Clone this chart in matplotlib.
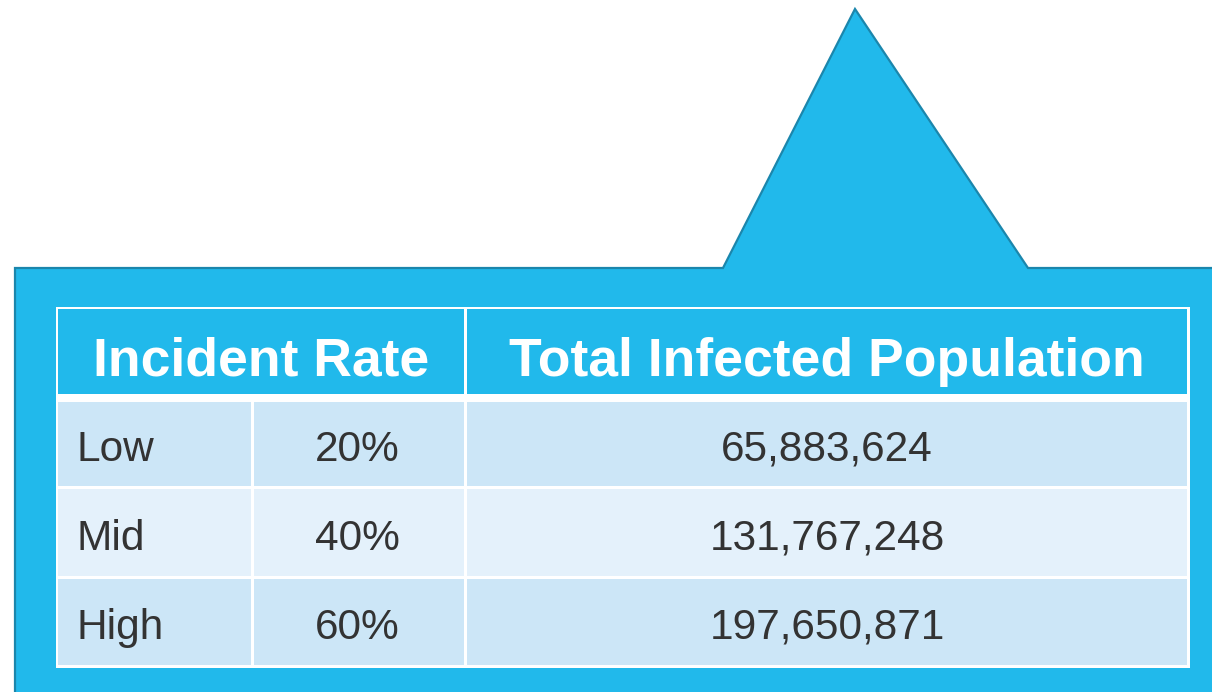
import matplotlib
matplotlib.use("Agg")
import matplotlib.pyplot as plt
from matplotlib.patches import Polygon, Rectangle

# ---- data ----
levels = ["Low", "Mid", "High"]
rates = ["20%", "40%", "60%"]
totals = ["65,883,624", "131,767,248", "197,650,871"]
headers = ["Incident Rate", "Total Infected Population"]

BLUE = "#21b9eb"
EDGE = "#1b86ac"
ROW_COLORS = ["#cce6f7", "#e4f1fb", "#cce6f7"]
TEXT = "#333333"
FONT = "Liberation Sans"

W, H = 1212, 692
fig = plt.figure(figsize=(W / 100, H / 100), dpi=100)
ax = fig.add_axes([0, 0, 1, 1])
ax.set_xlim(0, W)
ax.set_ylim(H, 0)
ax.axis("off")

# callout shape
callout = Polygon([(15, 700), (15, 268), (723, 268), (855, 9), (1028, 268),
                   (1220, 268), (1220, 700)], closed=True,
                  facecolor=BLUE, edgecolor=EDGE, linewidth=1.6, joinstyle="miter")
ax.add_patch(callout)

# table white background
ax.add_patch(Rectangle((56, 307), 1134, 361, facecolor="white", edgecolor="none"))

# header cells
col_x = [(58, 464), (467, 1187)]
for (x0, x1), label in zip(col_x, headers):
    ax.add_patch(Rectangle((x0, 309), x1 - x0, 85, facecolor=BLUE, edgecolor="none"))
    ax.text((x0 + x1) / 2, 376, label, ha="center", va="baseline", color="white",
            fontsize=38.5, fontweight="bold", family=FONT)

# body rows
row_y = [(402, 486), (489, 576), (579, 665)]
cols = [(58, 251), (254, 464), (467, 1187)]
for i, (y0, y1) in enumerate(row_y):
    for (x0, x1) in cols:
        ax.add_patch(Rectangle((x0, y0), x1 - x0, y1 - y0,
                               facecolor=ROW_COLORS[i], edgecolor="none"))
    yb = (y0 + y1) / 2 + 17
    ax.text(77, yb, levels[i], ha="left", va="baseline", color=TEXT,
            fontsize=30.5, family=FONT)
    ax.text((cols[1][0] + cols[1][1]) / 2 - 2, yb, rates[i], ha="center",
            va="baseline", color=TEXT, fontsize=30.5, family=FONT)
    ax.text((cols[2][0] + cols[2][1]) / 2, yb, totals[i], ha="center",
            va="baseline", color=TEXT, fontsize=30.5, family=FONT)

fig.savefig("out.png", dpi=100, facecolor="white")
